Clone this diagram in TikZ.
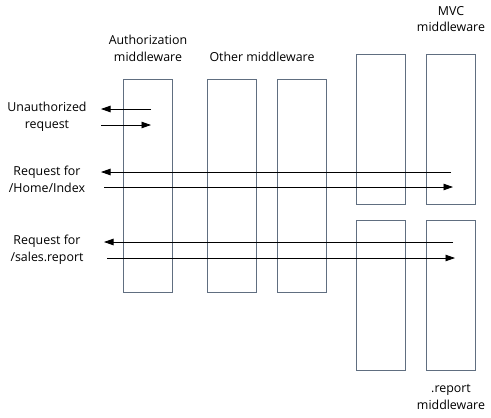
\documentclass[tikz,border=0pt]{standalone}
\usepackage{fontspec}
\setmainfont{Open Sans}
\usepackage{xcolor}
\definecolor{boxline}{RGB}{96,110,128}
\usepackage{tikz}
\usetikzlibrary{arrows.meta,positioning}

\begin{document}
\begin{tikzpicture}[
    x=1pt, y=-1pt,
    font=\fontsize{12.4}{16.8}\selectfont,
    mw/.style={rectangle, draw=boxline, line width=0.9pt, minimum width=49pt, inner sep=0pt},
    lbl/.style={align=center, inner sep=0pt},
    arrow/.style={-{Triangle[length=9.5pt,width=6.5pt]}, line width=0.8pt},
]
\useasboundingbox (0,0) rectangle (491,418);

% Authorization and other middleware
\node[mw, minimum height=213pt] (auth) at (147.5,185.5) {};
\node[mw, minimum height=213pt] (oth1) at (231.5,185.5) {};
\node[mw, minimum height=213pt] (oth2) at (301.5,185.5) {};
\node[lbl] (authl) at (148,48) {Authorization\\middleware};
\node[lbl] (othl) at (262,57) {Other middleware};

% MVC middleware
\node[mw, minimum height=150pt] (mvc1) at (381,129) {};
\node[mw, minimum height=150pt] (mvc2) at (451,129) {};
\node[lbl] (mvcl) at (451,19) {MVC\\middleware};

% .report middleware
\node[mw, minimum height=150pt] (rep1) at (381,295) {};
\node[mw, minimum height=150pt] (rep2) at (451,295) {};
\node[lbl] (repl) at (451,397) {.report\\middleware};

% Requests
\node[lbl] (unauth) at (47,117) {Unauthorized\\request};
\node[lbl] (home) at (47,179) {Request for\\/Home/Index};
\node[lbl] (sales) at (47,250) {Request for\\/sales.report};

\coordinate (u1) at (151,109); \coordinate (u2) at (101,109);
\coordinate (u3) at (101,125); \coordinate (u4) at (151,125);
\coordinate (h1) at (451,172); \coordinate (h2) at (101,172);
\coordinate (h3) at (104,187); \coordinate (h4) at (453,187);
\coordinate (s1) at (453,242); \coordinate (s2) at (104,242);
\coordinate (s3) at (107,258); \coordinate (s4) at (455,258);

\draw[arrow] (u1) -- (u2);
\draw[arrow] (u3) -- (u4);
\draw[arrow] (h1) -- (h2);
\draw[arrow] (h3) -- (h4);
\draw[arrow] (s1) -- (s2);
\draw[arrow] (s3) -- (s4);

\end{tikzpicture}
\end{document}
